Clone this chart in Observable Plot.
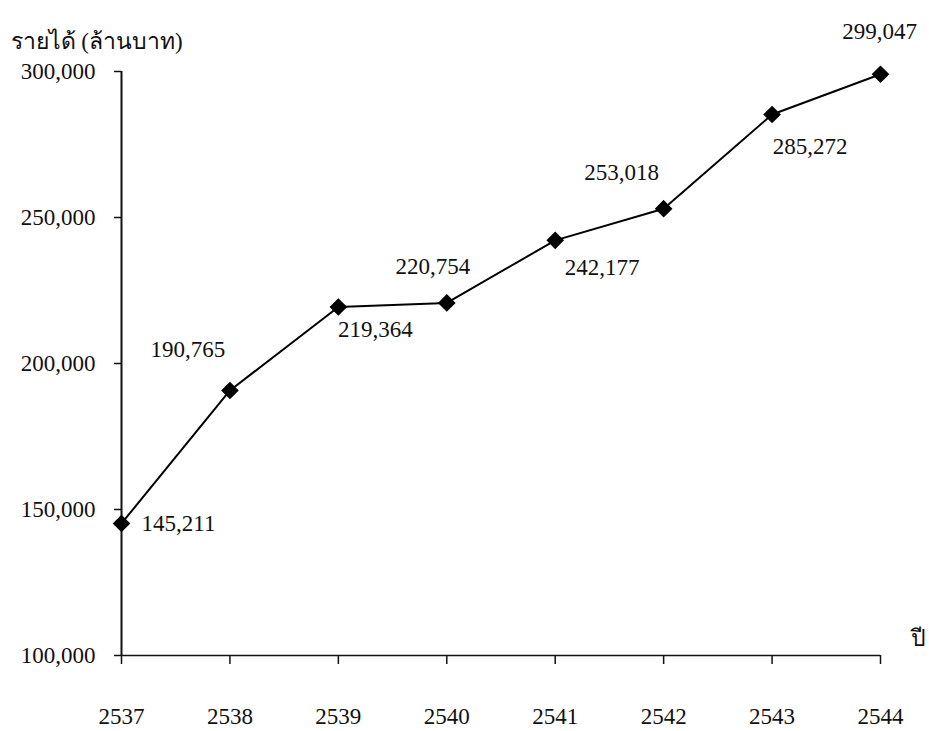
<!DOCTYPE html>
<html>
<head>
<meta charset="utf-8">
<script src="https://cdn.jsdelivr.net/npm/d3@7"></script>
<script src="https://cdn.jsdelivr.net/npm/@observablehq/plot@0.6"></script>
<style>
  html, body { margin: 0; padding: 0; background: #fff; }
  svg { display: block; }
</style>
</head>
<body>
<div id="chart"></div>
<script>
const years = [2537, 2538, 2539, 2540, 2541, 2542, 2543, 2544];
const revenue = [145211, 190765, 219364, 220754, 242177, 253018, 285272, 299047];
const yTicks = [100000, 150000, 200000, 250000, 300000];
const yTitle = "รายได้ (ล้านบาท)";
const xTitle = "ปี";

const data = years.map((year, i) => ({year, value: revenue[i]}));

// label offsets (pixels) relative to each point
const labelOffsets = [[57, 0], [-42, -41], [37, 23], [-14, -36], [47, 27], [-42, -36], [38, 32], [-1, -43]];

const font = "'Liberation Serif', 'Times New Roman', serif";
const fmt = d3.format(",");

const chart = Plot.plot({
  width: 929,
  height: 731,
  marginLeft: 121,
  marginRight: 49,
  marginTop: 71,
  marginBottom: 76,
  style: {fontFamily: font, fontSize: "23px", color: "#111", background: "#fff"},
  x: {domain: [2537, 2544], ticks: years, tickFormat: d => String(d), label: null},
  y: {domain: [100000, 300000], ticks: yTicks, tickFormat: fmt, label: null},
  marks: [
    Plot.axisY({ticks: yTicks, tickFormat: fmt, tickSize: 7, tickPadding: 19, strokeWidth: 1.5, fontSize: 23, label: null}),
    Plot.axisX({ticks: years, tickFormat: d => String(d), tickSize: 9, tickPadding: 43, strokeWidth: 1.5, fontSize: 23, label: null}),
    Plot.ruleX([2537], {strokeWidth: 2}),
    Plot.ruleY([100000], {strokeWidth: 1.5}),
    Plot.line(data, {x: "year", y: "value", stroke: "#000", strokeWidth: 2}),
    Plot.dot(data, {x: "year", y: "value", symbol: "diamond2", r: 7, fill: "#000", stroke: "#000"}),
    ...data.map((d, i) => Plot.text([d], {
      x: "year", y: "value", text: d => fmt(d.value),
      dx: labelOffsets[i][0], dy: labelOffsets[i][1],
      fontSize: 23, fill: "#111"
    })),
    Plot.text([yTitle], {frameAnchor: "top-left", dx: -111, dy: -39, textAnchor: "start", fontSize: 23, fill: "#111"}),
    Plot.text([xTitle], {frameAnchor: "bottom-right", dx: 38, dy: -10, textAnchor: "middle", fontSize: 23, fill: "#111"})
  ]
});

document.getElementById("chart").appendChild(chart);
</script>
</body>
</html>
